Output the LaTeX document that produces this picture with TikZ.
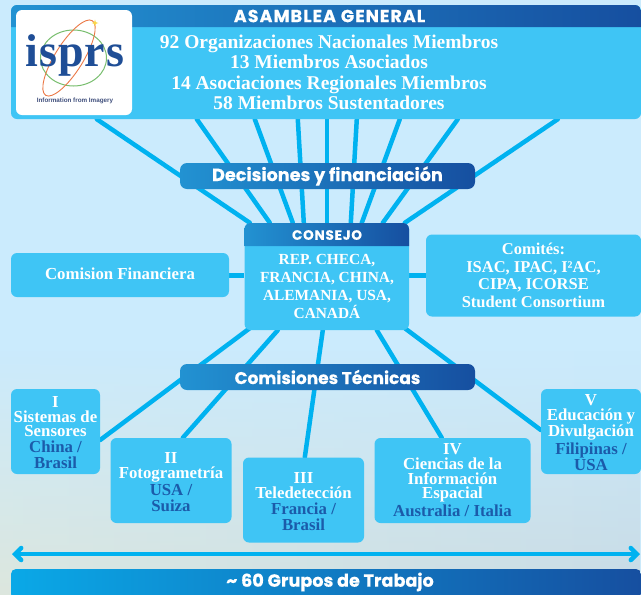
\documentclass[tikz,border=0pt]{standalone}
\usepackage{fontspec}
\usetikzlibrary{arrows.meta,calc,shapes.geometric,fadings}
\newfontfamily\serf{Liberation Serif}
\newfontfamily\logof[LetterSpace=2]{Liberation Serif}
\newfontfamily\logos{Liberation Sans}
\newfontfamily\popf[BoldFeatures={FakeBold=0.4}]{Poppins}
\newfontfamily\popw[LetterSpace=6,BoldFeatures={FakeBold=0.4}]{Poppins}
\definecolor{boxblue}{HTML}{3FC5F5}
\definecolor{linkblue}{HTML}{00B2F0}
\definecolor{gradL}{HTML}{2292D2}
\definecolor{gradM}{HTML}{1B77BE}
\definecolor{gradR}{HTML}{164FA0}
\definecolor{cityblue}{HTML}{1B5BAA}
\definecolor{logonavy}{HTML}{1F4E96}
\definecolor{logosub}{HTML}{41507D}
\definecolor{logogreen}{HTML}{78BE6E}
\definecolor{logoorange}{HTML}{EB7846}
\definecolor{logostar}{HTML}{FAD746}
\definecolor{pagetop}{HTML}{CBEBFD}
\definecolor{pagewarm}{HTML}{E0E6D8}
\definecolor{pagecool}{HTML}{C8D8E0}
\pgfdeclarelayer{bg}
\pgfdeclarelayer{lines}
\pgfsetlayers{bg,lines,main}
\tikzset{
 link/.style={draw=linkblue,line width=4.5pt,line cap=round},
 bluebox/.style={fill=boxblue,rounded corners=6pt,inner sep=0pt,align=center,text=white},
 gradbox/.style={left color=gradL,middle color=gradM,right color=gradR,rounded corners=7pt,inner sep=0pt,text=white},
 gradhead/.style={left color=gradL,middle color=gradM,right color=gradR},
 boxtext/.style={font=\serf\bfseries\fontsize{16.8}{14.8}\selectfont},
 lowertext/.style={text depth=0pt},
}
\newcommand{\cty}[1]{\textcolor{cityblue}{#1}}
\begin{document}
\begin{tikzpicture}[x=1pt,y=-1pt]
\useasboundingbox (0,0) rectangle (641,595);
\begin{pgfonlayer}{bg}
\fill[pagetop] (0,0) rectangle (641,595);
\shade[left color=pagewarm,right color=pagecool,path fading=north] (0,350) rectangle (641,640);
\end{pgfonlayer}

% Asamblea
\node[bluebox,minimum width=630pt,minimum height=114pt] (asam) at (326,62) {};
\path[gradhead] (11,27) [rounded corners=6pt] -- (11,5) -- (641,5) [sharp corners] -- (641,27) -- cycle;
\node[text=white,font=\popw\bfseries\fontsize{17.5}{18}\selectfont] (asamtitle) at (329.5,16) {ASAMBLEA GENERAL};
\node[text=white,align=center,font=\serf\bfseries\fontsize{19.5}{20.5}\selectfont] (asamtext) at (329,72.5) {92 Organizaciones Nacionales Miembros\\13 Miembros Asociados\\14 Asociaciones Regionales Miembros\\58 Miembros Sustentadores};

% Logo
\node[fill=white,rounded corners=6pt,minimum width=116pt,minimum height=105pt,inner sep=0pt] (logo) at (74,62.5) {};
\draw[logogreen,line width=1pt] (73.5,58) ellipse [x radius=33,y radius=28];
\draw[logoorange,line width=.9pt,rotate around={58:(69,58)}] (69,58) ellipse [x radius=44,y radius=14];
\node[star,star points=4,star point ratio=3,fill=logostar,inner sep=0pt,minimum size=7pt] (logostarnode) at (95,23) {};
\node[text=logonavy,font=\logof\bfseries\fontsize{46}{48}\selectfont] (logotext) at (75,55) {isprs};
\node[text=logosub,font=\logos\bfseries\fontsize{6.3}{8}\selectfont] (logosubnode) at (75,100.5) {Information from Imagery};

% Decisiones
\node[gradbox,minimum width=295pt,minimum height=26pt,font=\popf\bfseries\fontsize{17.6}{20}\selectfont] (dec) at (327.5,176) {Decisiones y financiación};

% Consejo
\node[bluebox,minimum width=164.5pt,minimum height=107pt] (cons) at (326.75,276.5) {};
\path[gradhead] (244.5,246) [rounded corners=6pt] -- (244.5,223) -- (409,223) [sharp corners] -- (409,246) -- cycle;
\node[text=white,font=\popw\bfseries\fontsize{13.5}{15}\selectfont] (constitle) at (327,235) {CONSEJO};
\node[text=white,align=center,font=\serf\bfseries\fontsize{15.4}{17.7}\selectfont] (constext) at (327,286.5) {REP. CHECA,\\FRANCIA, CHINA,\\ALEMANIA, USA,\\CANADÁ};

% Comision financiera / Comites
\node[bluebox,minimum width=218pt,minimum height=44pt,boxtext] (fin) at (120,275) {\raisebox{2.5pt}{Comision Financiera}};
\node[bluebox,minimum width=215pt,minimum height=82pt,font=\serf\bfseries\fontsize{16.5}{17.7}\selectfont] (com) at (533.5,275.5) {Comités:\\ISAC, IPAC, I²AC,\\CIPA, ICORSE\\Student Consortium};

% Comisiones Tecnicas
\node[gradbox,minimum width=295pt,minimum height=26pt,font=\popf\bfseries\fontsize{17}{20}\selectfont] (tec) at (327.5,377) {Comisiones Técnicas};

% Comisiones
\node[bluebox,minimum width=89pt,minimum height=85pt] (c1) at (55.5,431.5) {};
\node[boxtext,align=center,text=white,inner sep=0pt] (c1t) at (55.5,432.5) {I\\Sistemas de\\Sensores\\[1pt]\cty{China /}\\[1pt]\cty{Brasil}};
\node[bluebox,minimum width=121pt,minimum height=85pt] (c2) at (171,480.5) {};
\node[boxtext,align=center,text=white,inner sep=0pt] (c2t) at (171,482) {II\\Fotogrametría\\[1pt]\cty{USA /}\\[1pt]\cty{Suiza}};
\node[bluebox,minimum width=121pt,minimum height=85pt] (c3) at (303.5,500) {};
\node[boxtext,align=center,text=white,inner sep=0pt] (c3t) at (303.5,501.5) {III\\Teledetección\\[1pt]\cty{Francia /}\\[1pt]\cty{Brasil}};
\node[bluebox,minimum width=156pt,minimum height=85pt] (c4) at (452.5,480.5) {};
\node[boxtext,align=center,text=white,inner sep=0pt] (c4t) at (452.5,480) {IV\\Ciencias de la\\Información\\Espacial\\[1pt]\cty{Australia / Italia}};
\node[bluebox,minimum width=100pt,minimum height=85pt] (c5) at (591,431.5) {};
\node[boxtext,align=center,text=white,inner sep=0pt] (c5t) at (591,432.5) {V\\Educación y\\Divulgación\\[1pt]\cty{Filipinas /}\\[1pt]\cty{USA}};

% Grupos
\node[left color=linkblue!70!gradL,middle color=gradM,right color=gradR,rounded corners=5pt,inner sep=0pt,minimum width=630pt,minimum height=30pt] (grp) at (326,584) {};
\node[text=white,font=\popf\bfseries\fontsize{17.6}{18}\selectfont] (grptext) at (330,582) {\textasciitilde{} 60 Grupos de Trabajo};

\coordinate (arrL) at (12,554);
\coordinate (arrR) at (640,554);
\draw[draw=linkblue,line width=4.5pt,{Straight Barb[length=6pt,width=12pt,line cap=round]}-{Straight Barb[length=6pt,width=12pt,line cap=round]}] (arrL) -- (arrR);

\begin{pgfonlayer}{lines}
\foreach \a/\b in {86/5.5,186/25.5,244/48.5,287/59.5,316/82.5,346/106.5,389/117.5,447/138.5,547/160.5}
  \draw[link] ([xshift=\a pt]asam.south west) -- ([xshift=\b pt]cons.north west);
\draw[link,line width=5pt,line cap=butt] (fin.east) -- (cons.west |- fin.east);
\draw[link,line width=5pt,line cap=butt] (cons.east |- com.west) -- (com.west);
\draw[link] ([xshift=5.5pt,yshift=2pt]cons.south west) -- ([yshift=-8.5pt]c1.east);
\draw[link] ([xshift=33.5pt]cons.south west) -- ([xshift=72.5pt]c2.north west);
\draw[link] ([xshift=78.5pt]cons.south west) -- ([xshift=62pt]c3.north west);
\draw[link] ([xshift=132.5pt]cons.south west) -- ([xshift=67.5pt]c4.north west);
\draw[link] ([xshift=160.5pt,yshift=2pt]cons.south west) -- ([yshift=1.5pt]c5.west);
\end{pgfonlayer}
\end{tikzpicture}
\end{document}
